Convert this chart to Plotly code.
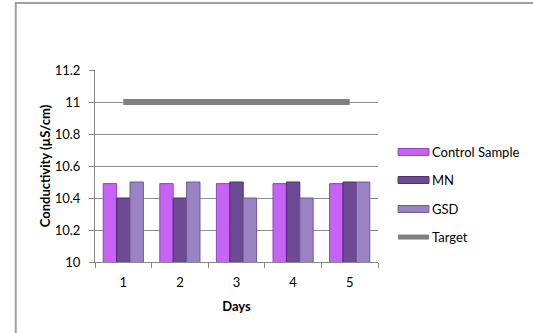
import plotly.graph_objects as go

days = ["1", "2", "3", "4", "5"]
control_sample = [10.49, 10.49, 10.49, 10.49, 10.49]
mn = [10.4, 10.4, 10.5, 10.5, 10.5]
gsd = [10.5, 10.5, 10.4, 10.4, 10.5]
target = [11, 11, 11, 11, 11]

y_ticks = [10, 10.2, 10.4, 10.6, 10.8, 11, 11.2]
y_tick_text = ["10", "10.2", "10.4", "10.6", "10.8", "11", "11.2"]

FONT = "Lato, 'Open Sans', sans-serif"

series = [
    ("Control Sample", control_sample, "#C663F4", "#9A3FC8"),
    ("MN", mn, "#6C4B94", "#4A2F6E"),
    ("GSD", gsd, "#9A83C2", "#6F5A96"),
]
target_color = "#808080"

fig = go.Figure()

for name, vals, fill, edge in series:
    fig.add_trace(go.Bar(
        x=days, y=vals, name=name,
        marker=dict(color=fill, line=dict(color=edge, width=1)),
        showlegend=False,
    ))

fig.add_trace(go.Scatter(
    x=days, y=target, name="Target", mode="lines",
    line=dict(color=target_color, width=6),
    showlegend=False,
))

# Outer chart frame
fig.add_shape(type="rect", xref="paper", yref="paper",
              x0=-0.28, x1=1.6, y0=-0.5, y1=1.349,
              line=dict(color="#A0A0A0", width=2), fillcolor="rgba(0,0,0,0)",
              layer="below")

# Legend on the right: wide swatches with labels
legend_y = [0.573, 0.427, 0.276, 0.130]
sw_x0, sw_x1 = 1.071, 1.180
for (name, _, fill, edge), yc in zip(series, legend_y):
    fig.add_shape(type="rect", xref="paper", yref="paper",
                  x0=sw_x0, x1=sw_x1, y0=yc - 0.018, y1=yc + 0.018,
                  fillcolor=fill, line=dict(color=edge, width=1))
    fig.add_annotation(xref="paper", yref="paper", x=sw_x1 + 0.005, y=yc,
                       text=name, showarrow=False, xanchor="left", yanchor="middle",
                       font=dict(family=FONT, size=13, color="#000000"))
fig.add_shape(type="line", xref="paper", yref="paper",
              x0=sw_x0, x1=sw_x1, y0=legend_y[3], y1=legend_y[3],
              line=dict(color=target_color, width=5))
fig.add_annotation(xref="paper", yref="paper", x=sw_x1 + 0.005, y=legend_y[3],
                   text="Target", showarrow=False, xanchor="left", yanchor="middle",
                   font=dict(family=FONT, size=13, color="#000000"))

fig.update_layout(
    width=533, height=333,
    margin=dict(l=95, r=155, t=70, b=71),
    paper_bgcolor="white", plot_bgcolor="white",
    barmode="group", bargap=0.29, bargroupgap=0,
    font=dict(family=FONT, size=13, color="#000000"),
    showlegend=False,
    xaxis=dict(
        type="category", showgrid=False,
        showline=True, linecolor="#888888", linewidth=1,
        ticks="outside", tickson="boundaries", ticklen=5, tickcolor="#888888",
        ticklabelstandoff=8,
        title=dict(text="<b>Days</b>", font=dict(family=FONT, size=13), standoff=13),
        tickfont=dict(family=FONT, size=13),
    ),
    yaxis=dict(
        range=[10, 11.2], tickvals=y_ticks, ticktext=y_tick_text,
        showgrid=True, gridcolor="#8C8C8C", gridwidth=1,
        showline=True, linecolor="#888888", linewidth=1,
        ticks="outside", ticklen=5, tickcolor="#888888",
        ticklabelstandoff=6,
        zeroline=False,
        title=dict(text="<b>Conductivity (µS/cm)</b>", font=dict(family=FONT, size=13), standoff=1),
        tickfont=dict(family=FONT, size=13),
    ),
)

fig.write_html("out.html")
